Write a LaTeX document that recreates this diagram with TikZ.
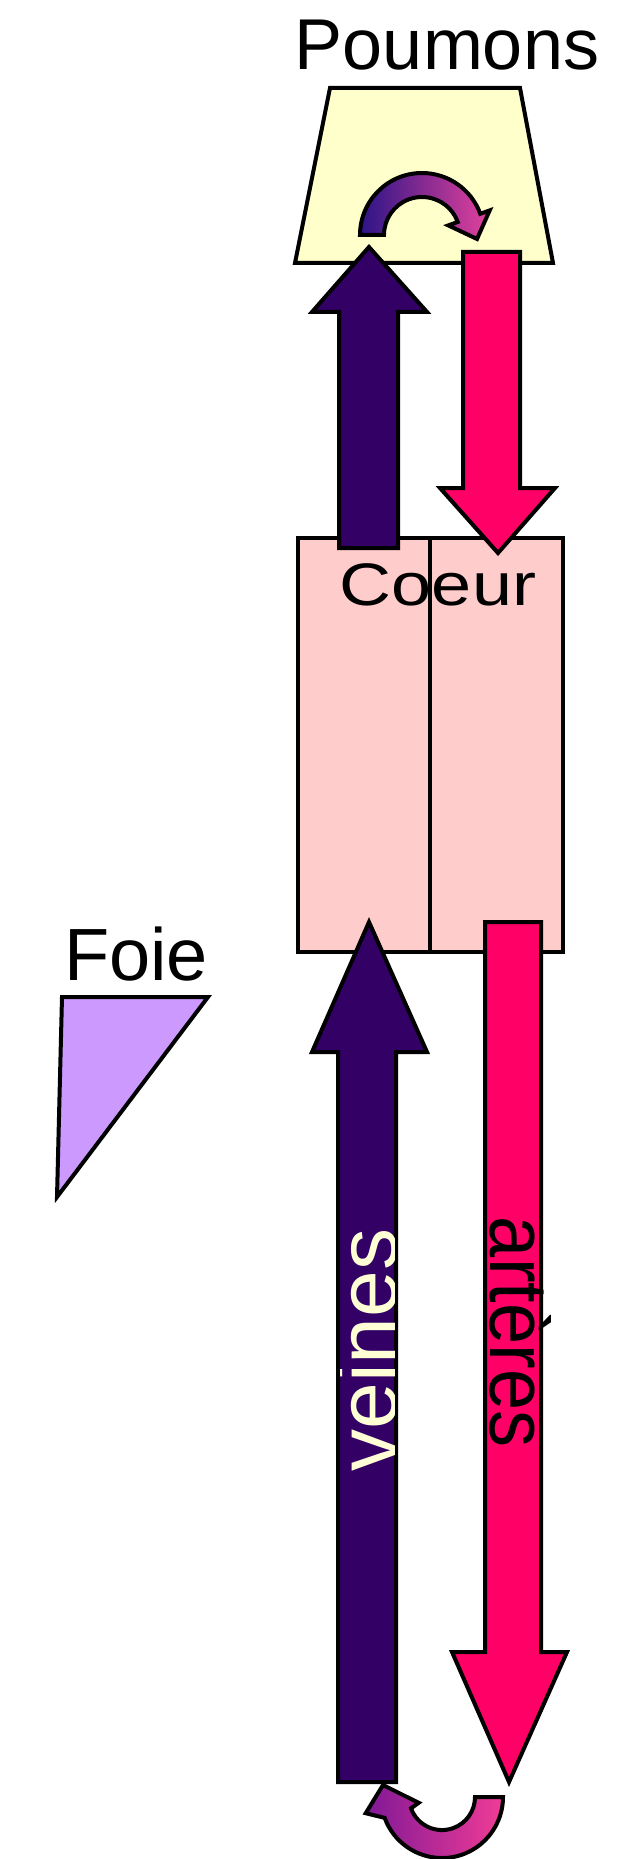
\documentclass[tikz,border=0pt]{standalone}
\usepackage{fontspec}
\setmainfont{Liberation Sans}
\definecolor{veine}{RGB}{51,0,102}
\definecolor{artere}{RGB}{255,0,102}
\definecolor{lung}{RGB}{255,255,204}
\definecolor{heart}{RGB}{255,204,204}
\definecolor{liver}{RGB}{204,153,255}
\definecolor{cream}{RGB}{255,255,214}
\definecolor{gradA}{RGB}{44,20,135}
\definecolor{gradB}{RGB}{228,66,156}
\definecolor{gradC}{RGB}{128,24,150}
\definecolor{gradD}{RGB}{240,60,150}
\begin{document}
\begin{tikzpicture}[x=1pt,y=1pt,
  outline/.style={draw=black,line width=4pt},
  bigtext/.style={font=\fontsize{72}{80}\selectfont,inner sep=0pt}]
\useasboundingbox (0,0) rectangle (642,-1859);

% lungs
\draw[outline, fill=lung] (330,-88) -- (520,-88) -- (553,-263) -- (295,-263) -- cycle;
\node[bigtext, anchor=base] (poumons) at (447,-70) {Poumons};

% heart
\draw[outline, fill=heart] (298,-538) rectangle (430,-952);
\draw[outline, fill=heart] (430,-538) rectangle (563,-952);
\node[font=\fontsize{60}{66}\selectfont, inner sep=0pt, anchor=base] (coeur) at (438,-605) {\scalebox{1.2}[1]{Coeur}};

% liver
\node[font=\fontsize{74}{80}\selectfont, inner sep=0pt, anchor=base] (foie) at (136,-980) {Foie};
\draw[outline, fill=liver] (62,-997) -- (208,-997) -- (57,-1197) -- cycle;

% lung circulation arrows
\draw[outline, fill=veine] (339,-548) -- (339,-312) -- (312,-312) -- (369,-247) -- (427,-312) -- (398,-312) -- (398,-548) -- cycle;
\draw[outline, fill=artere] (463,-252) -- (520,-252) -- (520,-488) -- (555,-488) -- (498,-553) -- (440,-488) -- (463,-488) -- cycle;

% body circulation arrows
\draw[outline, fill=veine] (338,-1782) -- (338,-1052) -- (312,-1052) -- (369,-922) -- (427,-1052) -- (396,-1052) -- (396,-1782) -- cycle;
\draw[outline, fill=artere] (485,-922) -- (541,-922) -- (541,-1652) -- (567,-1652) -- (509,-1782) -- (452,-1652) -- (485,-1652) -- cycle;

\begin{scope}
\clip (340,-1780) rectangle (394,-1054);
\node[rotate=90, anchor=base, text=cream, font=\fontsize{84}{90}\selectfont, inner sep=0pt] (veines) at (396,-1350) {veines};
\end{scope}
\node[rotate=-90, anchor=base, font=\fontsize{74}{80}\selectfont, inner sep=0pt] (arteres) at (490,-1332) {\scalebox{1}[1.12]{artères}};

% curved arrow in lungs
\shadedraw[outline, left color=gradA, right color=gradB]
  (360,-235) arc[start angle=180, end angle=20, radius=62]
  -- (489.7,-210.4) -- (477,-239) -- (448.3,-225.4) -- (457.7,-222)
  arc[start angle=20, end angle=180, radius=38] -- cycle;

% curved arrow at bottom
\shadedraw[outline, left color=gradC, right color=gradD]
  (503,-1797) arc[start angle=0, end angle=-160, radius=61]
  -- (365.7,-1813.2) -- (383,-1785) -- (418.7,-1802.8) -- (411,-1808.3)
  arc[start angle=-160, end angle=0, radius=33] -- cycle;
\end{tikzpicture}
\end{document}
